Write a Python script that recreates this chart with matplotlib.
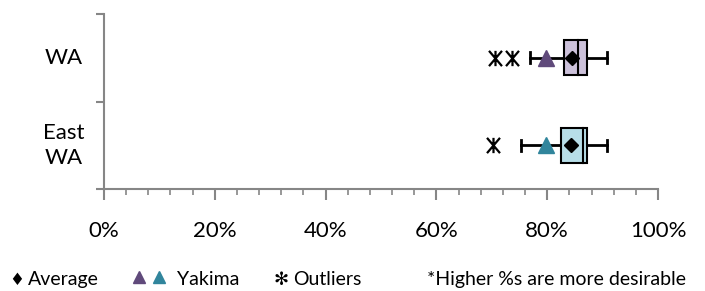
import matplotlib
matplotlib.use("Agg")
import matplotlib.pyplot as plt
from matplotlib.path import Path

# Data (percent)
regions = ["WA", "East\nWA"]
whisker_low = [76.9, 75.3]
q1 = [83.0, 82.5]
median = [85.6, 86.5]
q3 = [87.2, 87.2]
whisker_high = [90.8, 90.8]
average = [84.5, 84.3]
yakima = [79.8, 79.8]
outliers = [[70.6, 73.6], [70.2]]
box_colors = ["#ccc1da", "#b7dee8"]
tri_colors = ["#604a7b", "#31859c"]
xticks = [0, 20, 40, 60, 80, 100]

plt.rcParams['font.family'] = ['Lato', 'DejaVu Sans']

# outlier marker shaped like a vertical bar crossed by an X
star = Path([(0, -1), (0, 1), (-0.85, -1), (0.85, 1), (-0.85, 1), (0.85, -1)],
            [Path.MOVETO, Path.LINETO, Path.MOVETO, Path.LINETO, Path.MOVETO, Path.LINETO])

fig = plt.figure(figsize=(7.05, 2.91), dpi=100)
ax = fig.add_axes([104/705, 1-189/291, (658-104)/705, (189-14)/291])

ypos = [1.5, 0.5]
bh = 0.2
for i, y in enumerate(ypos):
    ax.plot([whisker_low[i], q1[i]], [y, y], color='black', lw=2, zorder=2)
    ax.plot([q3[i], whisker_high[i]], [y, y], color='black', lw=2, zorder=2)
    for wx in (whisker_low[i], whisker_high[i]):
        ax.plot([wx, wx], [y-0.065, y+0.065], color='black', lw=2, zorder=2)
    rect = plt.Rectangle((q1[i], y-bh), q3[i]-q1[i], 2*bh, facecolor=box_colors[i],
                         edgecolor='black', lw=1.5, zorder=3)
    ax.add_patch(rect)
    ax.plot([median[i], median[i]], [y-bh, y+bh], color='black', lw=1.5, zorder=4)
    ax.plot(average[i], y, marker='D', color='black', ms=7, zorder=5, ls='none')
    ax.plot(yakima[i], y, marker='^', color=tri_colors[i], ms=11, zorder=5, ls='none')
    ax.plot(outliers[i], [y]*len(outliers[i]), marker=star, color='black',
            ms=11, mew=1.6, ls='none', zorder=5)

ax.set_xlim(0, 100)
ax.set_ylim(0, 2)
ax.set_xticks(xticks)
ax.set_xticklabels([f"{v}%" for v in xticks], fontsize=16)
ax.set_xticks(list(range(0, 101, 4)), minor=True)
ax.set_yticks([0, 1, 2])
ax.set_yticklabels([])
for i, y in enumerate(ypos):
    ax.text(-0.072, y/2, regions[i], transform=ax.transAxes, ha='center', va='center',
            fontsize=16, multialignment='center', linespacing=1.3)

for s in ['top', 'right']:
    ax.spines[s].set_visible(False)
for s in ['left', 'bottom']:
    ax.spines[s].set_color('#868686')
    ax.spines[s].set_linewidth(1.5)
ax.tick_params(axis='x', which='major', direction='out', length=8, width=1.5, color='#868686', pad=15)
ax.tick_params(axis='x', which='minor', direction='out', length=4, width=1.2, color='#868686')
ax.tick_params(axis='y', which='major', direction='out', length=6, width=1.5, color='#868686')

# legend row
base = 1 - 285/291
fig.text(9/705, base, "\u2666", fontsize=12, va='baseline', ha='left', family='DejaVu Sans')
fig.text(28/705, base, "Average", fontsize=14, va='baseline', ha='left')
for xp, c in ((139, tri_colors[0]), (159, tri_colors[1])):
    fig.lines.append(plt.Line2D([xp/705], [1-277/291], marker='^', color=c, ms=9,
                                transform=fig.transFigure))
fig.text(177/705, base, "Yakima", fontsize=14, va='baseline', ha='left')
fig.text(274/705, base, "\u273B", fontsize=13, va='baseline', ha='left', family='DejaVu Sans')
fig.text(293/705, base, "Outliers", fontsize=14, va='baseline', ha='left')
fig.text(427/705, base, "*Higher %s are more desirable", fontsize=14, va='baseline', ha='left')

fig.savefig("out.png", dpi=100)
